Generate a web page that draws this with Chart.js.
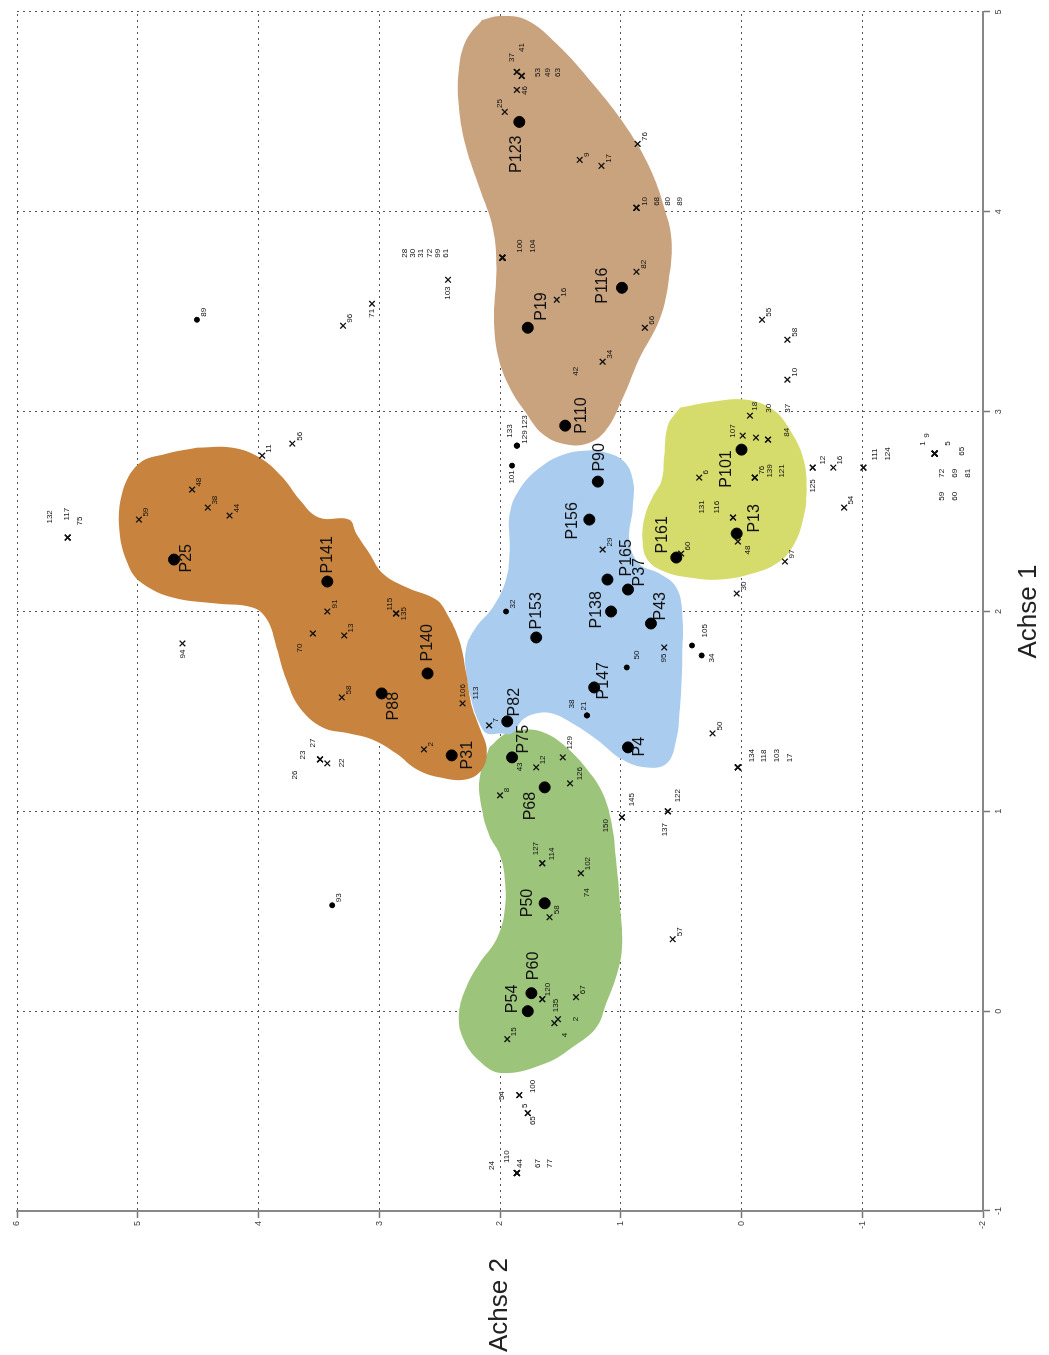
<!DOCTYPE html>
<html>
<head>
<meta charset="utf-8">
<script src="https://cdn.jsdelivr.net/npm/chart.js@4.4.1/dist/chart.umd.min.js"></script>
<style>
html, body { margin: 0; padding: 0; background: #fff; overflow: hidden; }
/* the plot is drawn upright, then turned a quarter to the left like the scan */
#wrap { position: absolute; left: 0; top: 0; width: 1355px; height: 1049px;
        transform-origin: 0 0; transform: translate(0, 1355px) rotate(-90deg); }
</style>
</head>
<body>
<div id="wrap"><canvas id="Biplot" width="1355" height="1049"></canvas></div>
<script>
// profiles (big dots)
var profIds = ['P25','P141','P88','P140','P31','P82','P75','P68','P153','P147','P4','P138','P165','P37',
               'P43','P156','P90','P161','P101','P13','P123','P19','P116','P110','P50','P60','P54'];
var profA1 = [2.26,2.15,1.59,1.69,1.28,1.45,1.27,1.12,1.87,1.62,1.32,2.00,2.16,2.11,
              1.94,2.46,2.65,2.27,2.81,2.39,4.45,3.42,3.62,2.93,0.54,0.09,0.00];
var profA2 = [4.70,3.43,2.98,2.60,2.40,1.94,1.90,1.63,1.70,1.22,0.94,1.08,1.11,0.94,
              0.75,1.26,1.19,0.54,0.00,0.04,1.84,1.77,0.99,1.46,1.63,1.74,1.77];

// small dots
var dotIds = ['89','93','101','133','129#d','123','32','21','38#d','50','105','34#d'];
var dotA1 = [3.46,0.53,2.73,2.83,2.83,2.83,2.00,1.48,1.48,1.72,1.83,1.78];
var dotA2 = [4.51,3.39,1.90,1.86,1.86,1.86,1.95,1.28,1.28,0.95,0.41,0.33];

// crosses (ids with #.. are repeated numbers, only the part before # is printed)
var crossIds = ['11','56','132','117','75','59','48','38','44','91','70','13','115','135','58','106','2',
  '26','23','27','22','94','96','71','103',
  '100','104','28','30','31','72','99','61',
  '25','46','37','41','53','49','63','9','17','76','10','68','80','89#t','82','16','66','34',
  '7','29','95',
  '8','12','129','126','145','150','137','122','127','114','102','58#g','57','120','135#g','67',
  '15','4','2#g','54','100#g','5','65','24','110','44#g','67#g','77',
  '60','6','131','116','48#y','76#y','139','121','107','30#y','84','37#y','18',
  '55','58#r','10#r','12#r','125','16#r','111','124','54#r',
  '1','9#r','5#r','65#r','72#r','69','81','59#r','60#r',
  '50#x','134','118','103#b','17#b','30#b','97'];
var crossA1 = [2.78,2.84,2.37,2.37,2.37,2.46,2.61,2.52,2.48,2.00,1.89,1.88,1.99,1.99,1.57,1.54,1.31,
  1.26,1.26,1.26,1.24,1.84,3.43,3.54,3.66,
  3.77,3.77,3.77,3.77,3.77,3.77,3.77,3.77,
  4.50,4.61,4.70,4.70,4.68,4.68,4.68,4.26,4.23,4.34,4.02,4.02,4.02,4.02,3.70,3.56,3.42,3.25,
  1.43,2.31,1.82,
  1.08,1.22,1.27,1.14,0.97,0.97,1.00,1.00,0.74,0.74,0.69,0.47,0.36,0.06,0.06,0.07,
  -0.14,-0.06,-0.04,-0.42,-0.42,-0.51,-0.51,-0.81,-0.81,-0.81,-0.81,-0.81,
  2.29,2.67,2.47,2.47,2.35,2.67,2.67,2.67,2.88,2.87,2.86,2.86,2.98,
  3.46,3.36,3.16,2.72,2.72,2.72,2.72,2.72,2.52,
  2.79,2.79,2.79,2.79,2.79,2.79,2.79,2.79,2.79,
  1.39,1.22,1.22,1.22,1.22,2.09,2.25];
var crossA2 = [3.97,3.72,5.58,5.58,5.58,4.99,4.55,4.42,4.24,3.43,3.55,3.29,2.86,2.86,3.31,2.31,2.63,
  3.49,3.49,3.49,3.43,4.63,3.30,3.06,2.43,
  1.98,1.98,1.98,1.98,1.98,1.98,1.98,1.98,
  1.96,1.86,1.86,1.86,1.82,1.82,1.82,1.34,1.16,0.86,0.87,0.87,0.87,0.87,0.87,1.53,0.80,1.15,
  2.09,1.15,0.64,
  2.00,1.70,1.48,1.42,0.99,0.99,0.61,0.61,1.65,1.65,1.33,1.59,0.57,1.65,1.65,1.37,
  1.94,1.55,1.52,1.84,1.84,1.77,1.77,1.86,1.86,1.86,1.86,1.86,
  0.50,0.35,0.07,0.07,0.03,-0.11,-0.11,-0.11,-0.01,-0.12,-0.22,-0.22,-0.07,
  -0.17,-0.38,-0.38,-0.59,-0.59,-0.76,-1.01,-1.01,-0.85,
  -1.60,-1.60,-1.60,-1.60,-1.60,-1.60,-1.60,-1.60,-1.60,
  0.24,0.03,0.03,0.03,0.03,0.04,-0.36];

// numbers printed without a visible mark
var plainIds = ['43','74','113','42'];
var plainA1 = [1.20,0.57,1.56,3.18];
var plainA2 = [1.84,1.28,2.20,1.37];

// cluster outlines (Achse 1, Achse 2)
var tanA1 = [4.96,4.98,4.96,4.84,4.64,4.42,4.22,4.02,3.86,3.67,3.46,3.26,3.06,2.91,2.84,2.84,2.89,2.99,3.12,3.29,3.47,3.72,3.92,4.12,4.32,4.52,4.72,4.86];
var tanA2 = [2.15,2.00,1.78,1.53,1.23,0.95,0.76,0.64,0.58,0.60,0.68,0.85,0.99,1.12,1.28,1.48,1.65,1.78,1.92,2.02,2.05,2.03,2.06,2.17,2.28,2.34,2.34,2.28];
var orA1 = [2.82,2.82,2.77,2.67,2.56,2.47,2.46,2.39,2.29,2.19,2.12,2.06,1.99,1.86,1.69,1.54,1.42,1.31,1.21,1.16,1.17,1.21,1.29,1.36,1.39,1.42,1.52,1.66,1.82,1.96,2.02,2.04,2.07,2.14,2.22,2.39,2.59,2.74,2.79];
var orA2 = [4.51,4.22,3.99,3.80,3.66,3.50,3.25,3.19,3.08,2.97,2.77,2.53,2.44,2.34,2.28,2.24,2.17,2.11,2.15,2.28,2.50,2.69,2.86,3.06,3.25,3.47,3.66,3.77,3.85,3.93,4.05,4.35,4.71,4.96,5.07,5.15,5.13,4.99,4.76];
var blA1 = [2.81,2.76,2.66,2.52,2.36,2.24,2.19,2.12,1.99,1.77,1.52,1.36,1.24,1.22,1.26,1.36,1.44,1.49,1.49,1.46,1.39,1.39,1.39,1.44,1.54,1.69,1.82,1.92,2.02,2.16,2.31,2.49,2.61,2.72,2.79];
var blA2 = [1.20,0.99,0.90,0.90,0.93,0.85,0.68,0.54,0.49,0.49,0.51,0.54,0.62,0.79,0.99,1.20,1.40,1.57,1.70,1.81,1.90,2.00,2.11,2.17,2.23,2.28,2.28,2.20,2.06,1.95,1.92,1.92,1.84,1.67,1.45];
var grA1 = [1.32,1.39,1.41,1.39,1.32,1.21,1.09,0.92,0.76,0.56,0.32,0.17,0.04,-0.08,-0.18,-0.26,-0.31,-0.25,-0.13,-0.01,0.12,0.24,0.36,0.51,0.66,0.78,0.88,1.01,1.16];
var grA2 = [2.09,1.95,1.78,1.62,1.45,1.28,1.15,1.07,1.04,1.01,0.99,1.04,1.12,1.20,1.40,1.62,1.98,2.17,2.31,2.34,2.28,2.17,2.03,1.96,1.96,2.00,2.09,2.15,2.17];
var yeA1 = [3.02,3.05,3.06,3.01,2.91,2.77,2.61,2.46,2.32,2.24,2.19,2.16,2.17,2.20,2.26,2.36,2.48,2.57,2.66,2.78,2.93];
var yeA2 = [0.51,0.24,-0.04,-0.26,-0.40,-0.51,-0.54,-0.51,-0.42,-0.29,-0.09,0.18,0.43,0.64,0.78,0.82,0.80,0.74,0.66,0.64,0.61];

// where each number sits next to its mark (canvas px, before the turn)
var labelAt = {
  'P25':[-13,13],'P88':[-27,12],'P140':[12,0],'P31':[-14,16],'P82':[5,7],'P75':[4,12],'P68':[-33,-14],
  'P147':[-12,9],'P4':[-9,12],'P138':[-17,-14],'P165':[3,19],'P37':[3,12],'P43':[3,10],'P156':[-20,-17],
  'P90':[10,2],'P161':[4,-14],'P101':[-38,-15],'P13':[1,18],'P123':[-51,-3],'P19':[7,14],'P116':[-16,-19],
  'P110':[-8,16],'P50':[-14,-17],'P60':[13,2],'P54':[-2,-15],
  '132':[14,-18],'117':[17,-1],'75':[12,12],'94':[-15,0],'103':[-20,0],'71':[-14,0],
  '100':[5,17],'104':[5,30],'28':[0,-98],'30':[0,-90],'31':[0,-82],'72':[0,-73],'99':[0,-65],'61':[0,-57],
  '37':[10,-5],'41':[20,5],'53':[-1,16],'49':[-1,26],'63':[-1,36],'46':[-5,8],'25':[4,-5],
  '10':[2,8],'68':[2,20],'80':[2,31],'89#t':[2,43],
  '107':[-2,-10],'18':[5,5],'30#y':[25,13],'37#y':[27,20],'84':[3,19],'139':[0,15],'121':[0,27],
  '131':[4,-31],'116':[4,-16],'48#y':[-13,10],
  '12#r':[3,10],'125':[-25,0],'111':[7,11],'124':[7,24],
  '1':[8,-12],'9#r':[16,-8],'5#r':[8,13],'65#r':[-2,27],'72#r':[-24,7],'69':[-24,20],'81':[-24,33],
  '59#r':[-47,7],'60#r':[-47,20],
  '134':[5,14],'118':[5,26],'103#b':[5,39],'17#b':[5,52],
  '137':[-25,-3],'122':[9,10],'145':[11,10],'150':[-15,-16],'127':[8,-6],'114':[3,10],'129':[8,7],'126':[3,10],
  '54':[-5,-18],'100#g':[2,13],'5':[5,-3],'65':[-12,5],'24':[3,-25],'110':[10,-10],'44#g':[5,3],
  '67#g':[5,21],'77':[5,33],'4':[-14,10],'2#g':[-2,18],'120':[3,6],'135#g':[-13,14],
  '26':[-20,-25],'23':[0,-17],'27':[12,-7],'22':[-4,14],'115':[3,-6],'135':[-7,8],'70':[-19,-13],
  '106':[6,0],'95':[-15,0],
  '133':[8,-7],'129#d':[2,8],'123':[17,8],'101':[-18,0],'21':[5,-3],'38#d':[7,-15],'50':[8,10],
  '105':[8,13],'34#d':[-7,10]
};

function pts(a1, a2) {
  return a1.map(function (v, i) { return { x: v, y: a2[i] }; });
}
function loop(a1, a2) {
  var p = pts(a1, a2);
  p.push(p[0]);
  return p;
}
function blob(a1, a2, color) {
  return {
    type: 'line', data: loop(a1, a2), backgroundColor: color, borderWidth: 0,
    pointRadius: 0, fill: 'shape', tension: 0.4, order: 10
  };
}

var labels = {
  id: 'labels',
  afterDatasetsDraw: function (chart) {
    var ctx = chart.ctx;
    ctx.save();
    ctx.fillStyle = '#111';
    ctx.textAlign = 'left';
    ctx.textBaseline = 'middle';
    chart.data.datasets.forEach(function (ds, di) {
      if (!ds.ids) return;
      var meta = chart.getDatasetMeta(di);
      ctx.font = ds.labelFont;
      meta.data.forEach(function (el, i) {
        var id = ds.ids[i];
        var off = labelAt[id] || ds.labelOffset;
        ctx.fillText(id.split('#')[0], el.x + off[0], el.y + off[1]);
      });
    });
    // Achse 2 stays horizontal in the upright plot
    var a = chart.chartArea;
    ctx.font = '26px "Liberation Sans", Arial, sans-serif';
    ctx.fillStyle = '#222';
    ctx.textAlign = 'center';
    ctx.fillText('Achse 2', a.left - 94, (a.top + a.bottom) / 2);
    ctx.restore();
  }
};

Chart.defaults.font.family = '"Liberation Sans", Arial, sans-serif';

var axisStyle = {
  grid: { color: '#555', lineWidth: 1, tickLength: 7, tickColor: '#777', tickWidth: 1.5, tickBorderDash: [] },
  border: { display: true, color: '#888', width: 2, dash: [2, 4] },
  ticks: { stepSize: 1, font: { size: 9 }, color: '#444', padding: 3 }
};

var ctx = document.getElementById('Biplot').getContext('2d');
var myChart = new Chart(ctx, {
  type: 'scatter',
  data: {
    datasets: [
      {
        label: 'Profile', data: pts(profA1, profA2), ids: profIds,
        labelFont: '16px "Liberation Sans", Arial, sans-serif', labelOffset: [8, 0],
        pointStyle: 'circle', pointRadius: 5.5, backgroundColor: '#000', borderColor: '#000', order: 0
      },
      {
        label: 'Punkte', data: pts(dotA1, dotA2), ids: dotIds,
        labelFont: '8px "Liberation Sans", Arial, sans-serif', labelOffset: [3, 7],
        pointStyle: 'circle', pointRadius: 2.5, backgroundColor: '#000', borderColor: '#000', order: 1
      },
      {
        label: 'Kreuze', data: pts(crossA1, crossA2), ids: crossIds,
        labelFont: '8px "Liberation Sans", Arial, sans-serif', labelOffset: [3, 7],
        pointStyle: 'crossRot', pointRadius: 4, borderWidth: 1.3, borderColor: '#111', order: 2
      },
      {
        label: 'Nummern', data: pts(plainA1, plainA2), ids: plainIds,
        labelFont: '8px "Liberation Sans", Arial, sans-serif', labelOffset: [0, 0],
        pointRadius: 0, order: 3
      },
      blob(tanA1, tanA2, '#c9a27e'),
      blob(orA1, orA2, '#c8843e'),
      blob(blA1, blA2, '#a9ccef'),
      blob(grA1, grA2, '#9cc47a'),
      blob(yeA1, yeA2, '#d6dc6c')
    ]
  },
  options: {
    responsive: false,
    animation: false,
    layout: { padding: { top: 17, right: 12, left: 0, bottom: 0 } },
    plugins: { legend: { display: false }, tooltip: { enabled: false } },
    scales: {
      x: Object.assign({
        type: 'linear', min: -1, max: 5,
        title: { display: true, text: 'Achse 1', color: '#222', font: { size: 26 }, padding: { top: 0, bottom: 5 } },
        afterFit: function (s) { s.height = 66; }
      }, axisStyle),
      y: Object.assign({
        type: 'linear', min: -2, max: 6,
        afterFit: function (s) { s.width = 144; }
      }, axisStyle)
    }
  },
  plugins: [labels]
});
</script>
</body>
</html>
